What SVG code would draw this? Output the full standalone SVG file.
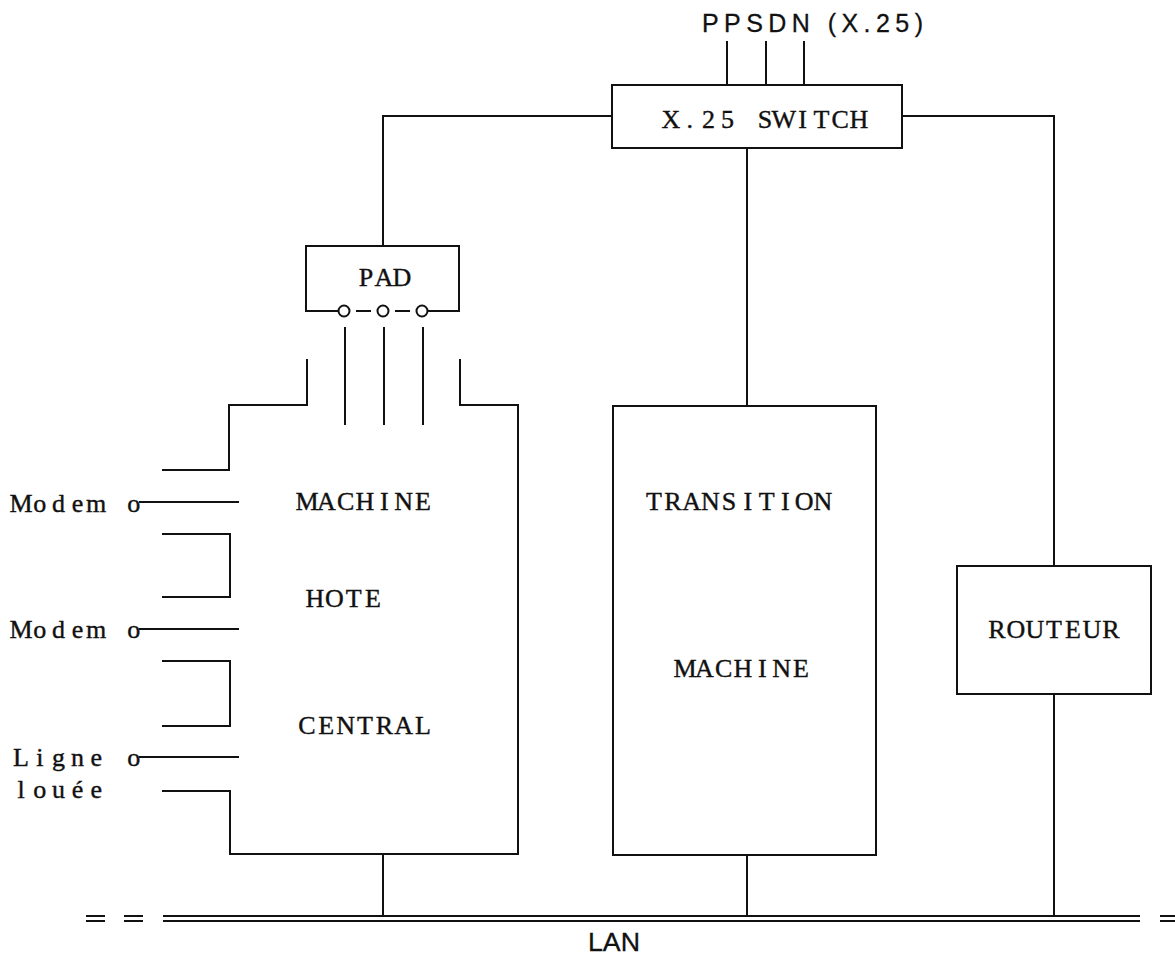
<svg xmlns="http://www.w3.org/2000/svg" width="1175" height="965" viewBox="0 0 1175 965">
<style>
.ln{fill:none;stroke:#111;stroke-width:2;stroke-linecap:square}
.lan{fill:none;stroke:#111;stroke-width:2}
.tw{font-family:"Liberation Serif","Times New Roman",serif;font-size:26px;fill:#111;stroke:#111;stroke-width:0.4;text-anchor:middle}
.sf{font-family:"Liberation Sans",Arial,sans-serif;font-size:25px;fill:#111;stroke:#111;stroke-width:0.3}
</style>
<rect width="1175" height="965" fill="#fff"/>
<g id="connectors">
<path class="ln" d="M727 42V85M766 42V85M804 42V85"/>
<path class="ln" d="M612 116H383V246"/>
<path class="ln" d="M902 116H1054V566"/>
<path class="ln" d="M1054 694V916"/>
<path class="ln" d="M747 148V406"/>
<path class="ln" d="M747 855V916"/>
<path class="ln" d="M383 854V916"/>
<path class="ln" d="M345 328V424M384 328V424M423 328V424"/>
<path class="ln" d="M140 502H238M140 629H238M140 757H238"/>
</g>
<g id="lan">
<path class="lan" d="M86 916H105M124 916H143M163 916H1140M1160 916H1175M86 921H105M124 921H143M163 921H1140M1160 921H1175"/>
<text class="sf" x="588" y="951" textLength="52" lengthAdjust="spacingAndGlyphs" font-size="30">LAN</text>
</g>
<g id="ppsdn">
<text class="sf" x="702" y="32" textLength="221">PPSDN (X.25)</text>
</g>
<g id="switch">
<rect class="ln" x="612" y="85" width="290" height="63"/>
<text class="tw" x="671 689.8 708.6 727.4 746.2 765 783.8 802.6 821.4 840.2 859" y="128">X.25 SWITCH</text>
</g>
<g id="pad">
<path class="ln" d="M338 311H306V246H459V311H428"/>
<circle class="ln" cx="344" cy="311" r="5.5"/>
<circle class="ln" cx="383" cy="311" r="5.5"/>
<circle class="ln" cx="422" cy="311" r="5.5"/>
<path class="ln" d="M357 311H370M396 311H409"/>
<text class="tw" x="366 384 402" y="286">PAD</text>
</g>
<g id="host">
<path class="ln" d="M307 360V405H229V470H163"/>
<path class="ln" d="M163 534H230V597H163"/>
<path class="ln" d="M163 661H230V726H163"/>
<path class="ln" d="M163 791H230V854H518V405H460V360"/>
<text class="tw" x="307 326.3 345.7 365 384.3 403.7 423" y="510">MACHINE</text>
<text class="tw" x="315 334.3 353.7 373" y="607">HOTE</text>
<text class="tw" x="307 326.3 345.7 365 384.3 403.7 423" y="734">CENTRAL</text>
</g>
<g id="modems">
<text class="tw" x="21 39.8 58.6 77.4 96.2 115 133.8" y="512">Modem o</text>
<text class="tw" x="21 39.8 58.6 77.4 96.2 115 133.8" y="638">Modem o</text>
<text class="tw" x="21 39.8 58.6 77.4 96.2 115 133.8" y="766">Ligne o</text>
<text class="tw" x="21 39.8 58.6 77.4 96.2" y="798">louée</text>
</g>
<g id="transition">
<rect class="ln" x="613" y="406" width="263" height="449"/>
<text class="tw" x="654 672.8 691.6 710.3 729.1 747.9 766.7 785.4 804.2 823" y="510">TRANSITION</text>
<text class="tw" x="685 704.3 723.7 743 762.3 781.7 801" y="677">MACHINE</text>
</g>
<g id="routeur">
<rect class="ln" x="957" y="566" width="194" height="128"/>
<text class="tw" x="997 1016 1035 1054 1073 1092 1111" y="638">ROUTEUR</text>
</g>
</svg>
